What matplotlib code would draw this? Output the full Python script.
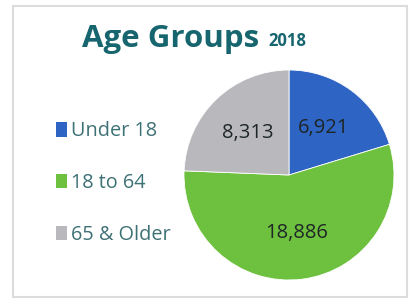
import matplotlib.pyplot as plt
from matplotlib.patches import Patch, Rectangle

# data
groups = ['Under 18', '18 to 64', '65 & Older']
people = [6921, 18886, 8313]
colors = ['#2E64C4', '#6EC13F', '#B9B9BD']

W, H = 412, 305
fig = plt.figure(figsize=(W / 100, H / 100), dpi=100)
fig.patch.set_facecolor('white')

# faint frame around the card
fig.patches.append(Rectangle((13 / W, 8 / H), 394 / W, 291 / H, transform=fig.transFigure,
                             fill=False, edgecolor='#dcdcdc', linewidth=1.5))

# title
fig.text(82 / W, (H - 47) / H, 'Age Groups', fontsize=22.5, fontweight='bold',
         family='Open Sans', color='#17656E', va='baseline', ha='left')
fig.text(268 / W, (H - 46) / H, '2018', fontsize=12, fontweight='bold',
         family='Open Sans', color='#17656E', va='baseline', ha='left')

# pie
cx, cy, r = 289, 175, 105
ax = fig.add_axes([(cx - r) / W, (H - cy - r) / H, 2 * r / W, 2 * r / H])
wedges, texts, autotexts = ax.pie(
    people, colors=colors, startangle=90, counterclock=False,
    autopct=lambda p: '{:,.0f}'.format(p * sum(people) / 100),
    pctdistance=0.56, wedgeprops=dict(linewidth=0.6, edgecolor='white'),
    textprops=dict(fontsize=14.5, family='Open Sans', color='#1e2626'))
ax.set_xlim(-1, 1)
ax.set_ylim(-1, 1)
ax.set_aspect('equal')

# legend on the left
handles = [Patch(facecolor=c, edgecolor='none') for c in colors]
leg = fig.legend(handles, groups, loc='center left', bbox_to_anchor=(38 / W, (H - 183) / H),
                 frameon=False, handlelength=0.55, handleheight=0.75, handletextpad=0.2,
                 labelspacing=1.6, prop=dict(family='Open Sans', size=14.3))
for t in leg.get_texts():
    t.set_color('#3E7175')

fig.savefig('out.png', dpi=100)
